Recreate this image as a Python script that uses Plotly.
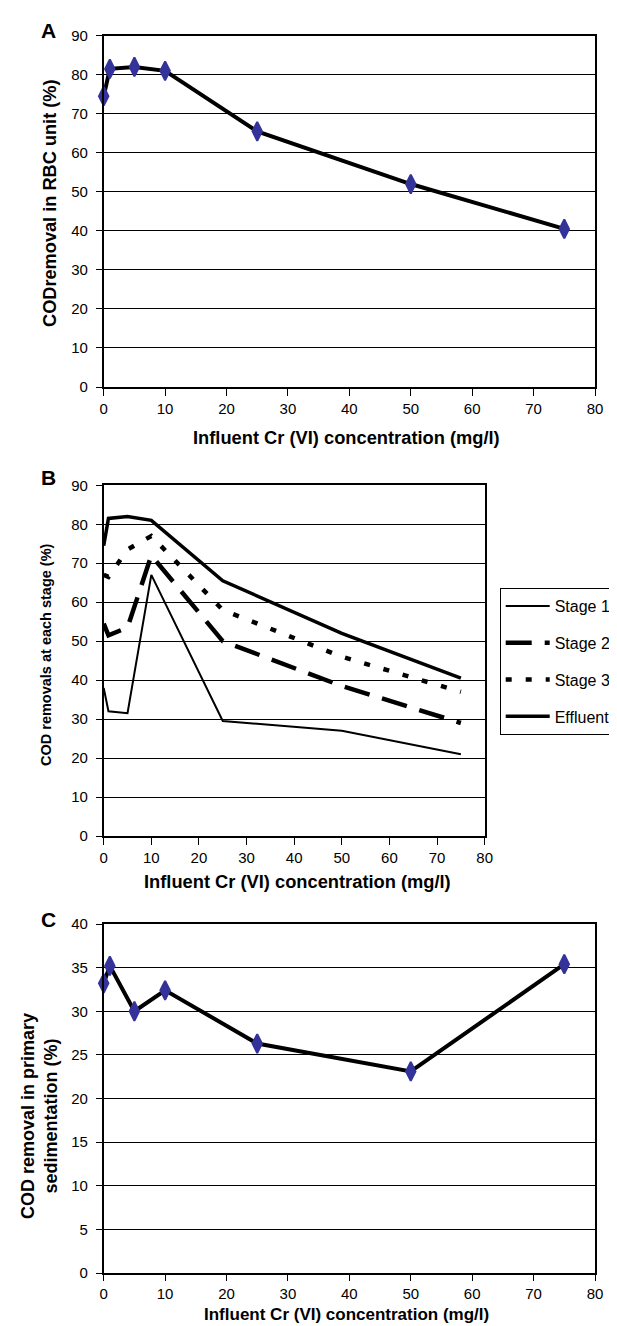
import plotly.graph_objects as go

# ---- data ----
cr_conc = [0, 1, 5, 10, 25, 50, 75]
rbc_removal = [74.5, 81.5, 82, 81, 65.5, 52, 40.5]
stage1 = [38, 32, 31.5, 67, 29.5, 27, 21]
stage2 = [54.5, 51.5, 53.5, 72, 50, 38.5, 29]
stage3 = [67, 66.5, 73.5, 77, 58, 46, 37]
effluent = [74.5, 81.5, 82, 81, 65.5, 52, 40.5]
primary_removal = [33.2, 35.2, 30, 32.4, 26.3, 23.1, 35.4]

x_ticks = [0, 10, 20, 30, 40, 50, 60, 70, 80]
stage_names = ["Stage 1", "Stage 2", "Stage 3", "Effluent"]

W, H = 617, 1326
FONT = "Liberation Sans, Arial, Helvetica, sans-serif"
MARK = "#333399"


def px_x(p):
    return p / W


def px_y(p):
    return 1 - p / H


fig = go.Figure()

marker = dict(symbol="diamond-tall", size=13.5, color=MARK, line=dict(color=MARK, width=2))

fig.add_trace(go.Scatter(x=cr_conc, y=rbc_removal, mode="lines+markers",
                         line=dict(color="black", width=4), marker=marker,
                         cliponaxis=False, showlegend=False, xaxis="x", yaxis="y"))

stage_series = [stage1, stage2, stage3, effluent]
stage_styles = [dict(width=2, dash="solid"),
                dict(width=4.5, dash="26px,13px"),
                dict(width=4.5, dash="6px,14px"),
                dict(width=3.5, dash="solid")]
for name, vals, st in zip(stage_names, stage_series, stage_styles):
    fig.add_trace(go.Scatter(x=cr_conc, y=vals, mode="lines", name=name,
                             legendgroup=name,
                             line=dict(color="black", width=st["width"], dash=st["dash"]),
                             xaxis="x2", yaxis="y2"))

fig.add_trace(go.Scatter(x=cr_conc, y=primary_removal, mode="lines+markers",
                         line=dict(color="black", width=4), marker=marker,
                         cliponaxis=False, showlegend=False, xaxis="x3", yaxis="y3"))

tickfont = dict(family=FONT, size=15, color="black")


def xaxis(dom, anchor, tl=7):
    return dict(domain=dom, anchor=anchor, range=[0, 80], tickvals=x_ticks,
                ticks="outside", ticklen=tl, tickcolor="black", tickwidth=1,
                showline=True, linecolor="black", linewidth=1.5, mirror=True,
                showgrid=False, zeroline=False, tickfont=tickfont, fixedrange=True)


def yaxis(dom, anchor, rng, dt):
    return dict(domain=dom, anchor=anchor, range=rng, dtick=dt, tick0=0,
                ticks="outside", ticklen=6, tickcolor="black", tickwidth=1,
                ticklabelstandoff=5,
                showline=True, linecolor="black", linewidth=1.5, mirror=True,
                showgrid=True, gridcolor="black", gridwidth=1,
                zeroline=False, tickfont=tickfont, fixedrange=True)


xa = [px_x(95.7), px_x(587)]
xb = [px_x(95.7), px_x(476.7)]
fig.update_layout(
    width=W, height=H,
    margin=dict(l=0, r=0, t=0, b=0, autoexpand=False),
    paper_bgcolor="white", plot_bgcolor="white",
    font=dict(family=FONT, color="black"),
    xaxis=xaxis(xa, "y"),
    yaxis=yaxis([px_y(379), px_y(27.7)], "x", [0, 90], 10),
    xaxis2=xaxis(xb, "y2"),
    yaxis2=yaxis([px_y(828), px_y(477.3)], "x2", [0, 90], 10),
    xaxis3=xaxis(xa, "y3", tl=6),
    yaxis3=yaxis([px_y(1265), px_y(916)], "x3", [0, 40], 5),
    legend=dict(x=px_x(491.7), y=px_y(580), xanchor="left", yanchor="top",
                bgcolor="white", bordercolor="black", borderwidth=1,
                font=dict(family=FONT, size=16, color="black"),
                traceorder="grouped", tracegroupgap=13, itemwidth=44),
)

ann = []
bold = dict(family=FONT, color="black")
# panel letters
for letter, yc in [("A", 22.5), ("B", 469.5), ("C", 911)]:
    ann.append(dict(text="<b>%s</b>" % letter, x=px_x(40.5), y=px_y(yc), xref="paper", yref="paper",
                    showarrow=False, xanchor="center", yanchor="middle",
                    font=dict(size=21, **bold)))
# x titles
xt = "<b>Influent Cr (VI) concentration (mg/l)</b>"
for xc, yc, fs in [(338, 430, 18.3), (289, 873, 18.3), (338, 1306, 17)]:
    ann.append(dict(text=xt, x=px_x(xc), y=px_y(yc), xref="paper", yref="paper",
                    showarrow=False, xanchor="center", yanchor="middle",
                    font=dict(size=fs, **bold)))
# y titles
ann.append(dict(text="<b>CODremoval in RBC unit (%)</b>", x=px_x(42), y=px_y(195),
                xref="paper", yref="paper", showarrow=False, textangle=-90,
                xanchor="center", yanchor="middle", font=dict(size=18.2, **bold)))
ann.append(dict(text="<b>COD removals at each stage (%)</b>", x=px_x(38), y=px_y(647),
                xref="paper", yref="paper", showarrow=False, textangle=-90,
                xanchor="center", yanchor="middle", font=dict(size=14.5, **bold)))
ann.append(dict(text="<b>COD removal in primary<br>sedimentation (%)</b>", x=px_x(31), y=px_y(1108),
                xref="paper", yref="paper", showarrow=False, textangle=-90,
                xanchor="center", yanchor="middle", font=dict(size=18, **bold)))
fig.update_layout(annotations=ann)

fig.write_html("out.html")
